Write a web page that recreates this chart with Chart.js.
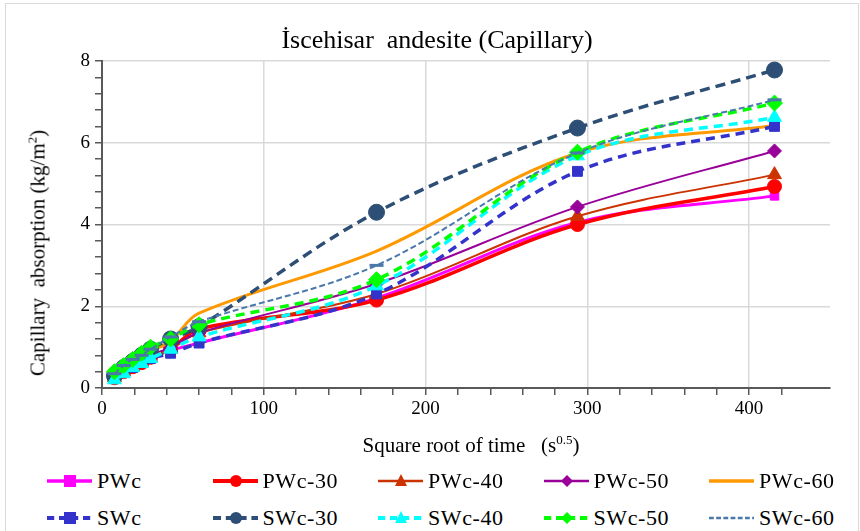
<!DOCTYPE html>
<html>
<head>
<meta charset="utf-8">
<script src="https://cdn.jsdelivr.net/npm/chart.js@4.4.1/dist/chart.umd.min.js"></script>
<style>
  body { margin: 0; background: #fff; }
  #wrap { position: relative; width: 860px; height: 531px; font-family: "Liberation Serif", "Times New Roman", serif; }
  #frame { position: absolute; left: 5px; top: 3px; width: 852px; height: 540px; border: 1px solid #d9d9d9; }
  #c { position: absolute; left: 0; top: 0; }
  .title { position: absolute; left: 437px; top: 40px; transform: translate(-50%, -50%); white-space: nowrap; font-size: 26px; color: #000; }
  .ytitle { position: absolute; left: 38px; top: 253px; transform: translate(-50%, -50%) rotate(-90deg); white-space: nowrap; font-size: 21px; color: #000; }
  .xtitle { position: absolute; left: 471px; top: 445px; transform: translate(-50%, -50%); white-space: nowrap; font-size: 21px; color: #000; }
  sup { font-size: 13px; vertical-align: 8px; line-height: 0; }
  .leg { position: absolute; display: flex; align-items: center; font-size: 22px; letter-spacing: 0.6px; color: #000; }
  .leg canvas { margin-right: 3px; }
</style>
</head>
<body>
<div id="wrap">
  <div id="frame"></div>
  <canvas id="c" width="860" height="460"></canvas>
  <div class="title">İscehisar&nbsp; andesite (Capillary)</div>
  <div class="ytitle">Capillary&nbsp; absorption (kg/m<sup>2</sup>)</div>
  <div class="xtitle">Square root of time &nbsp;&nbsp;(s<sup>0.5</sup>)</div>
  <div id="legend"></div>
</div>
<script>
// square root of time (s^0.5)
const rootTime = [7.7, 13.4, 19.0, 24.5, 30.0, 42.4, 60.0, 169.7, 293.9, 415.7];

const names = ['PWc', 'PWc-30', 'PWc-40', 'PWc-50', 'PWc-60', 'SWc', 'SWc-30', 'SWc-40', 'SWc-50', 'SWc-60'];

const pwc   = [0.30, 0.42, 0.55, 0.65, 0.75, 0.92, 1.10, 2.20, 4.05, 4.70];
const pwc30 = [0.25, 0.40, 0.52, 0.62, 0.75, 0.95, 1.45, 2.15, 4.00, 4.93];
const pwc40 = [0.25, 0.40, 0.52, 0.63, 0.75, 0.95, 1.35, 2.30, 4.20, 5.22];
const pwc50 = [0.30, 0.45, 0.58, 0.70, 0.80, 1.00, 1.35, 2.55, 4.43, 5.80];
const pwc60 = [0.35, 0.50, 0.65, 0.80, 0.90, 1.15, 1.83, 3.35, 5.75, 6.42];
const swc   = [0.25, 0.38, 0.50, 0.62, 0.72, 0.85, 1.10, 2.30, 5.30, 6.40];
const swc30 = [0.30, 0.50, 0.65, 0.80, 0.95, 1.20, 1.50, 4.30, 6.36, 7.78];
const swc40 = [0.20, 0.35, 0.50, 0.60, 0.72, 0.95, 1.25, 2.50, 5.68, 6.62];
const swc50 = [0.40, 0.55, 0.70, 0.85, 1.00, 1.20, 1.55, 2.65, 5.77, 6.97];
const swc60 = [0.35, 0.55, 0.70, 0.80, 0.95, 1.25, 1.62, 3.00, 5.75, 7.05];

const xTicks = [0, 100, 200, 300, 400];
const yTicks = [0, 2, 4, 6, 8];

const values = [pwc, pwc30, pwc40, pwc50, pwc60, swc, swc30, swc40, swc50, swc60];

// look of each series
const styles = [
    { color: '#ff00ff', width: 3, dash: [], point: 'rect', r: 6 },
    { color: '#ff0000', width: 3.5, dash: [], point: 'circle', r: 7 },
    { color: '#cc3300', width: 2, dash: [], point: 'triangle', r: 8 },
    { color: '#990099', width: 2, dash: [], point: 'rectRot', r: 7 },
    { color: '#ff9900', width: 3, dash: [], point: false, r: 0 },
    { color: '#3333cc', width: 3.5, dash: [9, 6], point: 'rect', r: 7 },
    { color: '#2d4e75', width: 3.5, dash: [10, 6], point: 'circle', r: 8 },
    { color: '#00ffff', width: 3.5, dash: [9, 6], point: 'triangle', r: 8 },
    { color: '#00ff00', width: 3.5, dash: [9, 6], point: 'rectRot', r: 8 },
    { color: '#4a78aa', width: 2, dash: [6, 3], point: 'line', r: 7 }
];

const isOn = (v, step) => Math.abs(v / step - Math.round(v / step)) < 1e-6;

const datasets = names.map((name, i) => {
    const s = styles[i];
    return {
        label: name,
        data: rootTime.map((x, k) => ({ x: x, y: values[i][k] })),
        borderColor: s.color,
        backgroundColor: s.color,
        borderWidth: s.width,
        borderDash: s.dash,
        pointStyle: s.point,
        pointRadius: s.r,
        pointBorderWidth: s.point === 'line' ? 3 : 1,
        pointBorderColor: s.color,
        pointBackgroundColor: s.color,
        tension: 0.35,
        order: names.length - i
    };
});

const serif = "'Liberation Serif', 'Times New Roman', serif";

new Chart(document.getElementById('c'), {
    type: 'line',
    data: { datasets: datasets },
    options: {
        responsive: false,
        animation: false,
        layout: { padding: { left: 0, right: 30, top: 61, bottom: 0 } },
        plugins: {
            legend: { display: false },
            tooltip: { enabled: false },
            title: { display: false }
        },
        scales: {
            x: {
                type: 'linear',
                min: 0,
                max: 450,
                afterFit: s => { s.height = 72; },
                ticks: {
                    stepSize: 20,
                    autoSkip: false,
                    maxRotation: 0,
                    padding: 3,
                    color: '#000',
                    font: { family: serif, size: 19 },
                    callback: v => (xTicks.includes(v) ? v : '')
                },
                grid: {
                    color: c => (c.tick && xTicks.includes(c.tick.value) && c.tick.value !== 0 ? '#d9d9d9' : 'rgba(0,0,0,0)'),
                    tickColor: c => (c.tick && c.tick.value > 440 ? 'rgba(0,0,0,0)' : '#595959'),
                    lineWidth: 1.5,
                    tickLength: 7,
                    tickWidth: 1.5
                },
                border: { color: '#595959', width: 2 }
            },
            y: {
                min: 0,
                max: 8,
                afterFit: s => { s.width = 102; },
                ticks: {
                    stepSize: 0.4,
                    autoSkip: false,
                    padding: 5,
                    color: '#000',
                    font: { family: serif, size: 19 },
                    callback: v => (isOn(v, 2) ? Math.round(v) : '')
                },
                grid: {
                    color: c => (c.tick && isOn(c.tick.value, 2) && c.tick.value > 0 ? '#d9d9d9' : 'rgba(0,0,0,0)'),
                    tickColor: '#595959',
                    lineWidth: 1.5,
                    tickLength: 7,
                    tickWidth: 1.5
                },
                border: { color: '#595959', width: 2 }
            }
        }
    }
});

// legend in two rows of five, drawn as html
function drawSymbol(cv, s) {
    const g = cv.getContext('2d');
    g.strokeStyle = s.color;
    g.fillStyle = s.color;
    g.lineWidth = s.width + 0.5;
    g.setLineDash(s.dash.length ? [s.dash[0] * 0.8, s.dash[1] * 0.8] : []);
    g.beginPath();
    g.moveTo(1, 10);
    g.lineTo(46, 10);
    g.stroke();
    g.setLineDash([]);
    const cx = 24, cy = 10, r = 6;
    g.beginPath();
    if (s.point === 'rect') {
        g.fillRect(cx - r, cy - r, 2 * r, 2 * r);
    } else if (s.point === 'circle') {
        g.arc(cx, cy, r, 0, Math.PI * 2);
        g.fill();
    } else if (s.point === 'triangle') {
        g.moveTo(cx, cy - r - 1);
        g.lineTo(cx + r, cy + r - 1);
        g.lineTo(cx - r, cy + r - 1);
        g.closePath();
        g.fill();
    } else if (s.point === 'rectRot') {
        g.moveTo(cx, cy - r);
        g.lineTo(cx + r, cy);
        g.lineTo(cx, cy + r);
        g.lineTo(cx - r, cy);
        g.closePath();
        g.fill();
    }
}

const legend = document.getElementById('legend');
names.forEach((name, i) => {
    const row = Math.floor(i / 5), col = i % 5;
    const item = document.createElement('div');
    item.className = 'leg';
    item.style.left = (46 + col * 165.5) + 'px';
    item.style.top = (468 + row * 37) + 'px';
    const cv = document.createElement('canvas');
    cv.width = 48;
    cv.height = 20;
    drawSymbol(cv, styles[i]);
    const span = document.createElement('span');
    span.textContent = name;
    item.appendChild(cv);
    item.appendChild(span);
    legend.appendChild(item);
});
</script>
</body>
</html>
